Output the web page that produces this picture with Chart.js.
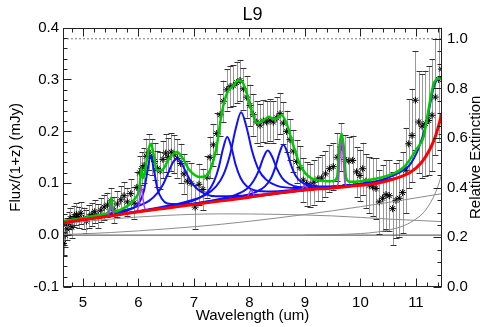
<!DOCTYPE html>
<html>
<head>
<meta charset="utf-8">
<script src="https://cdn.jsdelivr.net/npm/chart.js@4.4.0/dist/chart.umd.min.js"></script>
<style>
html,body{margin:0;padding:0;background:#fff;}
</style>
</head>
<body>
<canvas id="c" width="491" height="327"></canvas>
<script>
// observed spectrum
const obsWave = [4.65,4.68,4.71,4.74,4.77,4.80,4.84,4.88,4.92,4.96,5.01,5.06,5.11,5.16,5.21,5.27,5.32,5.38,5.44,5.50,
5.56,5.62,5.68,5.74,5.80,5.86,5.92,5.97,6.02,6.06,6.10,6.14,6.19,6.24,6.29,6.34,6.39,6.44,6.49,6.54,
6.59,6.64,6.70,6.76,6.82,6.88,6.95,7.02,7.09,7.16,7.23,7.29,7.35,7.41,7.47,7.53,7.59,7.65,7.71,7.77,
7.83,7.89,7.95,8.01,8.07,8.13,8.19,8.25,8.31,8.37,8.43,8.49,8.55,8.61,8.67,8.73,8.79,8.85,8.91,8.97,
9.03,9.09,9.16,9.23,9.30,9.37,9.44,9.51,9.58,9.65,9.72,9.79,9.86,9.93,9.99,10.04,10.10,10.16,10.22,10.28,
10.34,10.40,10.46,10.52,10.58,10.64,10.70,10.76,10.82,10.87,10.93,10.99,11.05,11.11,11.17,11.23,11.29,11.35,11.41,11.46];
const obsFlux = [-0.016,0.000,0.012,0.024,0.032,0.016,0.036,0.040,0.034,0.042,0.032,0.027,0.036,0.040,0.045,0.037,0.048,0.054,0.058,0.066,
0.048,0.060,0.068,0.076,0.064,0.080,0.062,0.092,0.120,0.128,0.134,0.152,0.160,0.150,0.142,0.128,0.124,0.146,0.158,0.150,
0.160,0.156,0.148,0.138,0.118,0.104,0.100,0.054,0.098,0.088,0.112,0.150,0.174,0.196,0.232,0.258,0.280,0.286,0.288,0.294,
0.298,0.282,0.266,0.250,0.232,0.218,0.212,0.220,0.218,0.222,0.218,0.226,0.234,0.216,0.200,0.184,0.162,0.142,0.130,0.106,
0.099,0.096,0.102,0.108,0.110,0.118,0.128,0.132,0.150,0.170,0.146,0.143,0.144,0.122,0.115,0.128,0.104,0.096,0.093,0.090,
0.064,0.071,0.078,0.076,0.051,0.067,0.071,0.082,0.125,0.176,0.192,0.260,0.218,0.210,0.215,0.221,0.231,0.266,0.300,0.320];
const obsErr = [0.022,0.022,0.021,0.021,0.021,0.021,0.021,0.021,0.021,0.021,0.021,0.022,0.022,0.022,0.022,0.023,0.023,0.024,0.024,0.025,
0.025,0.025,0.026,0.026,0.027,0.028,0.030,0.030,0.032,0.032,0.033,0.034,0.034,0.035,0.035,0.035,0.036,0.036,0.036,0.037,
0.037,0.037,0.037,0.038,0.038,0.038,0.039,0.042,0.040,0.040,0.040,0.040,0.040,0.040,0.040,0.040,0.040,0.040,0.040,0.040,
0.040,0.040,0.040,0.040,0.040,0.040,0.040,0.040,0.040,0.040,0.040,0.040,0.040,0.040,0.040,0.040,0.041,0.041,0.041,0.042,
0.042,0.042,0.043,0.043,0.044,0.044,0.045,0.045,0.046,0.046,0.047,0.047,0.048,0.048,0.050,0.050,0.052,0.054,0.056,0.058,
0.062,0.064,0.066,0.068,0.070,0.072,0.074,0.078,0.082,0.086,0.090,0.095,0.098,0.100,0.102,0.105,0.108,0.112,0.120,0.125];

// total model (green)
const modelWave = [4.64,5.0,5.3,5.45,5.49,5.51,5.53,5.57,5.7,5.85,5.95,6.0,6.03,6.05,6.08,6.11,6.15,6.2,6.23,6.27,
6.33,6.42,6.55,6.69,6.8,6.9,7.0,7.1,7.2,7.3,7.4,7.5,7.6,7.7,7.8,7.86,7.96,8.05,8.14,8.24,
8.35,8.45,8.58,8.68,8.77,8.89,9.0,9.13,9.3,9.5,9.58,9.62,9.66,9.7,9.74,9.8,10.0,10.3,10.5,10.66,
10.8,10.9,11.02,11.14,11.2,11.26,11.32,11.37,11.42,11.47];
const modelFlux = [0.027,0.033,0.039,0.043,0.055,0.072,0.055,0.045,0.050,0.060,0.072,0.082,0.105,0.129,0.110,0.118,0.145,0.172,0.176,0.157,
0.125,0.125,0.147,0.160,0.148,0.128,0.117,0.112,0.113,0.128,0.165,0.235,0.275,0.287,0.298,0.297,0.270,0.237,0.216,0.220,
0.228,0.223,0.231,0.212,0.180,0.141,0.120,0.109,0.105,0.104,0.112,0.170,0.196,0.170,0.112,0.103,0.104,0.109,0.115,0.122,
0.133,0.147,0.167,0.190,0.225,0.262,0.292,0.300,0.302,0.300];

// total continuum (red)
const contWave = [4.64,5.0,5.5,6.0,6.5,7.0,7.5,8.0,8.5,9.0,9.5,10.0,10.3,10.6,10.9,11.1,11.25,11.35,11.47];
const contFlux = [0.024,0.030,0.037,0.045,0.052,0.059,0.066,0.073,0.081,0.087,0.091,0.096,0.100,0.108,0.121,0.140,0.165,0.190,0.235];

// continuum components (thin gray)
const warmWave = [4.64,5.5,6.5,7.5,8.5,9.5,10.5,11.47];
const warmFlux = [0.022,0.031,0.038,0.041,0.040,0.037,0.031,0.026];
const coolWave = [4.64,5.5,6.5,7.5,8.5,9.5,10.5,11.47];
const coolFlux = [0.001,0.005,0.012,0.021,0.033,0.047,0.063,0.080];
const coldWave = [9.0,9.5,10.0,10.3,10.6,10.8,11.0,11.15,11.3,11.4,11.47];
const coldFlux = [0.000,0.001,0.003,0.006,0.012,0.019,0.031,0.045,0.070,0.095,0.120];
const zeroWave = [4.64,11.47];
const zeroFlux = [0,0];

// continuum + dust features (blue)
const pah62Wave = [4.64,5.2,5.62,5.82,6.02,6.10,6.16,6.22,6.28,6.34,6.42,6.52,6.62,6.82,7.22,8.0,9.0];
const pah62Flux = [0.024,0.034,0.042,0.048,0.064,0.086,0.122,0.154,0.124,0.090,0.070,0.061,0.060,0.059,0.063,0.073,0.087];
const pah67Wave = [4.64,5.19,5.69,5.99,6.19,6.34,6.44,6.54,6.62,6.69,6.76,6.84,6.94,7.04,7.19,7.39,7.69,8.19,9.19];
const pah67Flux = [0.025,0.036,0.046,0.056,0.066,0.081,0.097,0.121,0.140,0.147,0.142,0.125,0.104,0.091,0.080,0.075,0.075,0.078,0.089];
const pah76Wave = [4.64,5.6,6.4,6.8,7.1,7.25,7.36,7.45,7.52,7.6,7.68,7.75,7.84,7.95,8.1,8.4,8.8,9.6,10.3];
const pah76Flux = [0.024,0.039,0.053,0.061,0.072,0.084,0.103,0.132,0.165,0.189,0.167,0.136,0.110,0.094,0.086,0.084,0.087,0.093,0.100];
const pah785Wave = [4.64,5.35,6.35,6.85,7.2,7.4,7.53,7.65,7.75,7.85,7.95,8.05,8.17,8.3,8.5,8.85,9.35,10.35];
const pah785Flux = [0.025,0.035,0.053,0.064,0.077,0.094,0.116,0.155,0.204,0.237,0.207,0.161,0.125,0.107,0.095,0.091,0.093,0.101];
const pah833Wave = [4.64,6.33,7.13,7.53,7.78,7.95,8.07,8.17,8.25,8.33,8.41,8.49,8.59,8.71,8.88,9.13,9.53,10.33];
const pah833Flux = [0.024,0.051,0.063,0.071,0.079,0.089,0.104,0.125,0.149,0.163,0.151,0.129,0.110,0.099,0.093,0.092,0.093,0.100];
const pah861Wave = [4.64,6.61,7.41,7.81,8.11,8.28,8.39,8.47,8.54,8.61,8.68,8.75,8.83,8.94,9.11,9.41,9.81,10.61];
const pah861Flux = [0.024,0.054,0.067,0.074,0.083,0.094,0.110,0.132,0.158,0.174,0.160,0.135,0.115,0.102,0.096,0.093,0.096,0.109];
const pah113Wave = [9.0,9.5,10.0,10.3,10.6,10.8,10.9,11.02,11.12,11.2,11.27,11.32,11.37,11.42,11.47];
const pah113Flux = [0.087,0.092,0.099,0.104,0.115,0.127,0.137,0.160,0.190,0.222,0.260,0.285,0.298,0.302,0.300];

// continuum + emission lines (purple)
const line551Wave = [5.42,5.46,5.49,5.51,5.53,5.56,5.60];
const line551Flux = [0.037,0.040,0.049,0.058,0.049,0.040,0.039];
const line605Wave = [5.96,6.00,6.03,6.05,6.07,6.10,6.14];
const line605Flux = [0.044,0.055,0.080,0.094,0.080,0.057,0.047];
const line803Wave = [7.90,7.97,8.00,8.03,8.06,8.09,8.16];
const line803Flux = [0.071,0.075,0.082,0.087,0.082,0.076,0.074];
const line900Wave = [8.88,8.94,8.97,9.00,9.03,9.06,9.12];
const line900Flux = [0.085,0.088,0.092,0.095,0.092,0.089,0.087];
const line966Wave = [9.54,9.60,9.63,9.66,9.69,9.72,9.78];
const line966Flux = [0.091,0.100,0.150,0.182,0.150,0.101,0.093];

// extinction (right axis)
const extWave = [4.64,11.47];
const extCurve = [1.0,1.0];

const xTicks = [5,6,7,8,9,10,11];
const yTicks = [-0.1,0.0,0.1,0.2,0.3,0.4];
const y2Ticks = [0.0,0.2,0.4,0.6,0.8,1.0];

const FONT = "'Liberation Sans', Arial, sans-serif";

function pts(xs, ys) {
  return xs.map((x, i) => ({x: x, y: ys[i]}));
}

function curve(xs, ys, color, width, order) {
  return {data: pts(xs, ys), borderColor: color, borderWidth: width, pointRadius: 0,
    fill: false, cubicInterpolationMode: 'monotone', order: order, yAxisID: 'y'};
}

const errorBars = {
  id: 'errorBars',
  beforeDatasetsDraw(chart) {
    const {ctx, chartArea: a, scales: {x, y}} = chart;
    ctx.save();
    ctx.beginPath();
    ctx.rect(a.left, a.top, a.right - a.left, a.bottom - a.top);
    ctx.clip();
    ctx.lineWidth = 1;
    for (let i = 0; i < obsWave.length; i++) {
      const px = Math.round(x.getPixelForValue(obsWave[i])) + 0.5;
      const top = y.getPixelForValue(obsFlux[i] + obsErr[i]);
      const bot = y.getPixelForValue(obsFlux[i] - obsErr[i]);
      ctx.strokeStyle = '#999';
      ctx.beginPath();
      ctx.moveTo(px, top);
      ctx.lineTo(px, bot);
      ctx.stroke();
      ctx.strokeStyle = '#333';
      ctx.beginPath();
      ctx.moveTo(px - 3, Math.round(top) + 0.5);
      ctx.lineTo(px + 3, Math.round(top) + 0.5);
      ctx.moveTo(px - 3, Math.round(bot) + 0.5);
      ctx.lineTo(px + 3, Math.round(bot) + 0.5);
      ctx.stroke();
    }
    ctx.restore();
  }
};

const frame = {
  id: 'frame',
  afterDraw(chart) {
    const {ctx, chartArea: a, scales: {x, y, y2}} = chart;
    ctx.save();
    ctx.strokeStyle = '#222';
    ctx.lineWidth = 1;
    const L = Math.round(a.left) + 0.5, R = Math.round(a.right) - 0.5;
    const T = Math.round(a.top) + 0.5, B = Math.round(a.bottom) - 0.5;
    ctx.strokeRect(L, T, R - L, B - T);
    ctx.beginPath();
    for (let k = Math.ceil(x.min / 0.2); k * 0.2 <= x.max; k++) {
      const v = k * 0.2;
      const len = Math.abs(v - Math.round(v)) < 1e-6 ? 8 : 4;
      const px = Math.round(x.getPixelForValue(v)) + 0.5;
      ctx.moveTo(px, B); ctx.lineTo(px, B - len);
      ctx.moveTo(px, T); ctx.lineTo(px, T + len);
    }
    for (let k = Math.ceil(y.min / 0.02 - 1e-6); k * 0.02 <= y.max + 1e-6; k++) {
      const major = k % 5 === 0;
      const py = Math.round(y.getPixelForValue(k * 0.02)) + 0.5;
      ctx.moveTo(L, py); ctx.lineTo(L + (major ? 8 : 4), py);
    }
    for (let k = 0; k * 0.05 <= y2.max + 1e-6; k++) {
      const major = k % 4 === 0;
      const py = Math.round(y2.getPixelForValue(k * 0.05)) + 0.5;
      ctx.moveTo(R, py); ctx.lineTo(R - (major ? 8 : 4), py);
    }
    ctx.stroke();
    // right axis title reads bottom to top
    ctx.fillStyle = '#000';
    ctx.font = '15px ' + FONT;
    ctx.textAlign = 'center';
    ctx.textBaseline = 'middle';
    ctx.translate(chart.width - 15, (a.top + a.bottom) / 2);
    ctx.rotate(-Math.PI / 2);
    ctx.fillText('Relative Extinction', 0, 0);
    ctx.restore();
  }
};

const tickFont = {family: FONT, size: 15};

new Chart(document.getElementById('c'), {
  type: 'line',
  data: {
    datasets: [
      curve(contWave, contFlux, '#ff0000', 3, 0),
      curve(line551Wave, line551Flux, '#b040e0', 1.5, 1),
      curve(line605Wave, line605Flux, '#b040e0', 1.5, 1),
      curve(line803Wave, line803Flux, '#b040e0', 1.5, 1),
      curve(line900Wave, line900Flux, '#b040e0', 1.5, 1),
      curve(line966Wave, line966Flux, '#b040e0', 1.5, 1),
      curve(modelWave, modelFlux, '#00c800', 2.5, 2),
      curve(pah62Wave, pah62Flux, '#1010ff', 2, 3),
      curve(pah67Wave, pah67Flux, '#1010ff', 2, 3),
      curve(pah76Wave, pah76Flux, '#1010ff', 2, 3),
      curve(pah785Wave, pah785Flux, '#1010ff', 2, 3),
      curve(pah833Wave, pah833Flux, '#1010ff', 2, 3),
      curve(pah861Wave, pah861Flux, '#1010ff', 2, 3),
      curve(pah113Wave, pah113Flux, '#1010ff', 2, 3),
      curve(warmWave, warmFlux, '#8c8c8c', 1, 4),
      curve(coolWave, coolFlux, '#8c8c8c', 1, 4),
      curve(coldWave, coldFlux, '#8c8c8c', 1, 4),
      curve(zeroWave, zeroFlux, '#444444', 1, 4),
      {data: pts(extWave, extCurve), yAxisID: 'y2', borderColor: '#777', borderWidth: 1,
        borderDash: [2, 2], pointRadius: 0, order: 5},
      {data: pts(obsWave, obsFlux), yAxisID: 'y', showLine: false, pointStyle: 'star',
        pointRadius: 3.5, pointBorderColor: '#000', pointBorderWidth: 1, order: 6}
    ]
  },
  options: {
    responsive: false,
    animation: false,
    devicePixelRatio: 1,
    layout: {padding: 0},
    plugins: {
      legend: {display: false},
      tooltip: {enabled: false},
      title: {display: true, text: 'L9', fullSize: false, color: '#000',
        font: {family: FONT, size: 18, weight: 'normal'}, padding: {top: 4, bottom: 2}}
    },
    scales: {
      x: {
        type: 'linear', min: 4.64, max: 11.47,
        afterBuildTicks: s => { s.ticks = xTicks.map(v => ({value: v})); },
        afterFit: s => { s.height = 40; },
        grid: {display: false, drawTicks: false},
        border: {display: false},
        ticks: {color: '#000', font: tickFont, padding: 7, maxRotation: 0, callback: v => String(v)},
        title: {display: true, text: 'Wavelength (um)', color: '#000', font: tickFont, padding: {top: 0, bottom: 2}}
      },
      y: {
        position: 'left', min: -0.1, max: 0.4,
        afterBuildTicks: s => { s.ticks = yTicks.map(v => ({value: v})); },
        afterFit: s => { s.width = 63; },
        grid: {display: false, drawTicks: false},
        border: {display: false},
        ticks: {color: '#000', font: tickFont, padding: 4, callback: v => v.toFixed(1)},
        title: {display: true, text: 'Flux/(1+z) (mJy)', color: '#000', font: tickFont, padding: {top: 7, bottom: 0}}
      },
      y2: {
        position: 'right', min: 0, max: 1.045,
        afterBuildTicks: s => { s.ticks = y2Ticks.map(v => ({value: v})); },
        afterFit: s => { s.width = 49; },
        grid: {display: false, drawTicks: false},
        border: {display: false},
        ticks: {color: '#000', font: tickFont, padding: 5, callback: v => v.toFixed(1)}
      }
    }
  },
  plugins: [errorBars, frame]
});
</script>
</body>
</html>
